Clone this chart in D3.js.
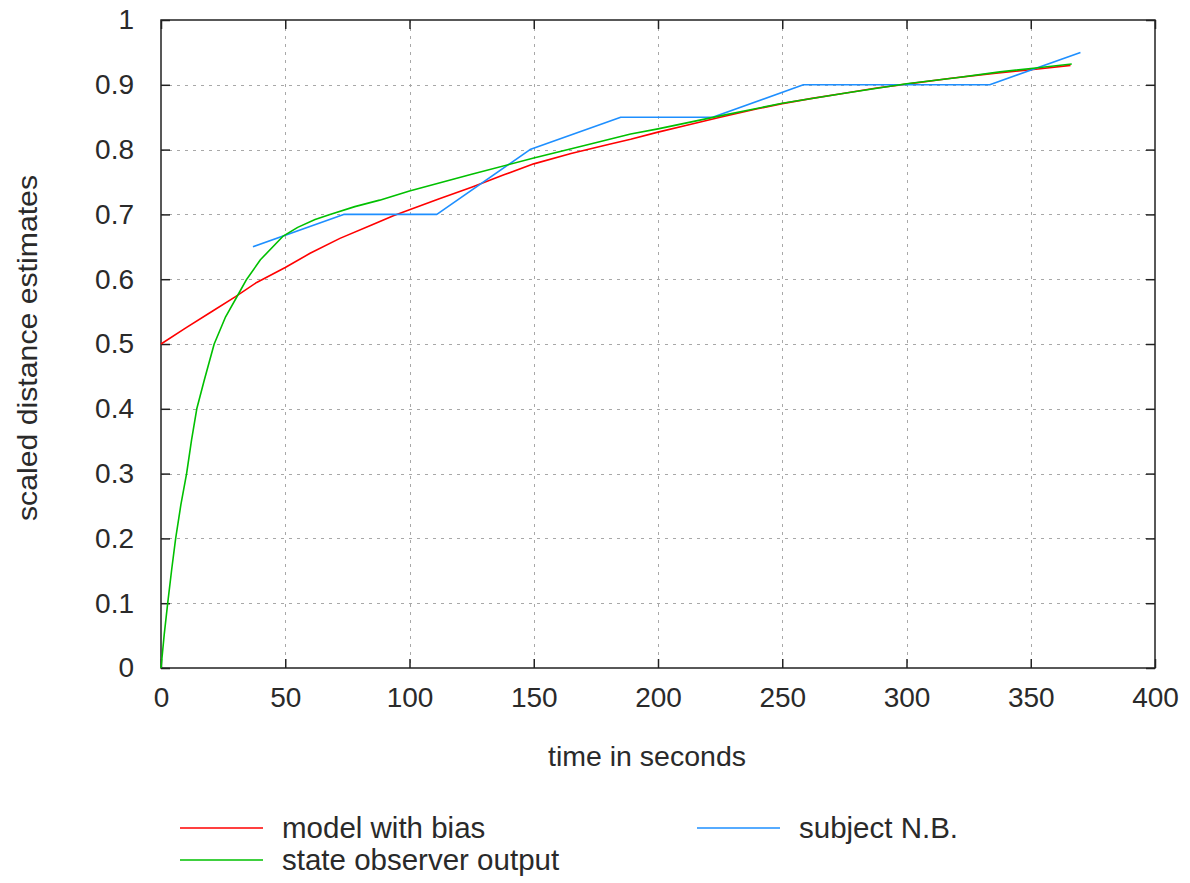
<!DOCTYPE html>
<html>
<head>
<meta charset="utf-8">
<script src="https://cdn.jsdelivr.net/npm/d3@7"></script>
<style>
  html, body { margin: 0; padding: 0; background: #fff; }
  svg { display: block; }
  text { font-family: "Liberation Sans", Arial, sans-serif; fill: #2a2a2a; }
</style>
</head>
<body>
<svg id="chart" width="1190" height="883"></svg>
<script>
// ---- data ----
const xTicks = [0, 50, 100, 150, 200, 250, 300, 350, 400];
const yTicks = [0, 0.1, 0.2, 0.3, 0.4, 0.5, 0.6, 0.7, 0.8, 0.9, 1];
const yTickLabels = ["0", "0.1", "0.2", "0.3", "0.4", "0.5", "0.6", "0.7", "0.8", "0.9", "1"];

// model with bias (red)
const modelT = [0, 10, 20, 30, 38.5, 50, 60, 72, 85, 93.5, 100, 112, 125, 138, 150, 165, 180, 189, 200, 212, 225, 240, 250, 262, 275, 288, 300, 318, 336, 352, 366];
const modelV = [0.500, 0.525, 0.549, 0.573, 0.595, 0.618, 0.640, 0.663, 0.684, 0.698, 0.707, 0.724, 0.742, 0.761, 0.778, 0.794, 0.808, 0.816, 0.827, 0.838, 0.850, 0.863, 0.871, 0.879, 0.887, 0.895, 0.901, 0.910, 0.918, 0.924, 0.930];

// subject N.B. (blue)
const subjT = [37, 73.5, 111, 148.5, 185, 222, 258.5, 296, 333.5, 370];
const subjV = [0.65, 0.70, 0.70, 0.80, 0.85, 0.85, 0.90, 0.90, 0.90, 0.95];

// state observer output (green)
const obsT = [0, 1.3, 2.7, 4.3, 5.9, 8, 10.3, 12.3, 14.4, 17.4, 21.4, 26, 31, 34.5, 40, 49, 55, 62, 68, 78, 88, 100, 125, 150, 170, 189, 200, 225, 250, 275, 300, 320, 337.6, 352, 366.5];
const obsV = [0.000, 0.052, 0.100, 0.152, 0.200, 0.252, 0.300, 0.352, 0.400, 0.444, 0.500, 0.542, 0.576, 0.600, 0.630, 0.666, 0.680, 0.692, 0.700, 0.712, 0.722, 0.736, 0.762, 0.787, 0.806, 0.824, 0.832, 0.852, 0.8715, 0.887, 0.9015, 0.911, 0.920, 0.926, 0.932];

const legendLabels = ["model with bias", "subject N.B.", "state observer output"];
const colors = ["#ff0000", "#1e8fff", "#00c000"];

// ---- layout ----
const L = 161, R = 1155, T = 20, B = 668;
const svg = d3.select("#chart");
const x = d3.scaleLinear().domain([0, 400]).range([L, R]);
const y = d3.scaleLinear().domain([0, 1]).range([B, T]);

// grid
const grid = svg.append("g").attr("stroke", "#a8a8a8").attr("stroke-width", 1).attr("stroke-dasharray", "3,5");
grid.selectAll("line.gx").data(xTicks.filter(d => d > 0 && d < 400)).join("line")
  .attr("x1", d => Math.round(x(d)) + 0.5).attr("x2", d => Math.round(x(d)) + 0.5)
  .attr("y1", T).attr("y2", B);
grid.selectAll("line.gy").data(yTicks.filter(d => d > 0 && d < 1)).join("line")
  .attr("y1", d => Math.round(y(d)) + 0.5).attr("y2", d => Math.round(y(d)) + 0.5)
  .attr("x1", L).attr("x2", R);

// axes with inward ticks, using d3 axes
const tickLen = 9;
const fs = 28;
const axB = svg.append("g").attr("transform", `translate(0,${B})`)
  .call(d3.axisBottom(x).tickValues(xTicks).tickSize(-tickLen).tickPadding(tickLen + 10).tickFormat(d3.format("d")));
const axT = svg.append("g").attr("transform", `translate(0,${T})`)
  .call(d3.axisTop(x).tickValues(xTicks).tickSize(-tickLen).tickFormat(""));
const axL = svg.append("g").attr("transform", `translate(${L},0)`)
  .call(d3.axisLeft(y).tickValues(yTicks).tickSize(-tickLen).tickPadding(tickLen + 18).tickFormat((d, i) => yTickLabels[i]));
const axR = svg.append("g").attr("transform", `translate(${R},0)`)
  .call(d3.axisRight(y).tickValues(yTicks).tickSize(-tickLen).tickFormat(""));
[axB, axT, axL, axR].forEach(g => {
  g.select(".domain").remove();
  g.selectAll(".tick line").attr("stroke", "#222").attr("stroke-width", 1.5);
  g.selectAll(".tick text").attr("font-family", "Liberation Sans, Arial, sans-serif").attr("font-size", fs).attr("fill", "#2a2a2a");
});
axB.selectAll(".tick text").attr("dy", "0.71em");

// border
svg.append("rect").attr("x", L).attr("y", T).attr("width", R - L).attr("height", B - T)
  .attr("fill", "none").attr("stroke", "#222").attr("stroke-width", 1.5);

// lines
const line = d3.line().x(d => x(d[0])).y(d => y(d[1]));
const series = [
  d3.zip(modelT, modelV),
  d3.zip(subjT, subjV),
  d3.zip(obsT, obsV)
];
series.forEach((s, i) => {
  svg.append("path").datum(s).attr("d", line)
    .attr("fill", "none").attr("stroke", colors[i]).attr("stroke-width", 1.6)
    .attr("stroke-linejoin", "round");
});

// axis titles
svg.append("text").attr("x", 647).attr("y", 766).attr("text-anchor", "middle")
  .attr("font-size", 28.5).text("time in seconds");
svg.append("text").attr("transform", "translate(37,348) rotate(-90)").attr("text-anchor", "middle")
  .attr("font-size", fs).attr("textLength", 346).attr("lengthAdjust", "spacingAndGlyphs")
  .text("scaled distance estimates");

// legend
const legendPos = [[180, 828], [697, 828], [180, 860]];
legendLabels.forEach((lab, i) => {
  const [lx, ly] = legendPos[i];
  svg.append("line").attr("x1", lx).attr("x2", lx + 83).attr("y1", ly).attr("y2", ly)
    .attr("stroke", colors[i]).attr("stroke-width", 1.6);
  svg.append("text").attr("x", lx + 102).attr("y", ly).attr("dy", "0.35em")
    .attr("font-size", 29.5).text(lab);
});
</script>
</body>
</html>
